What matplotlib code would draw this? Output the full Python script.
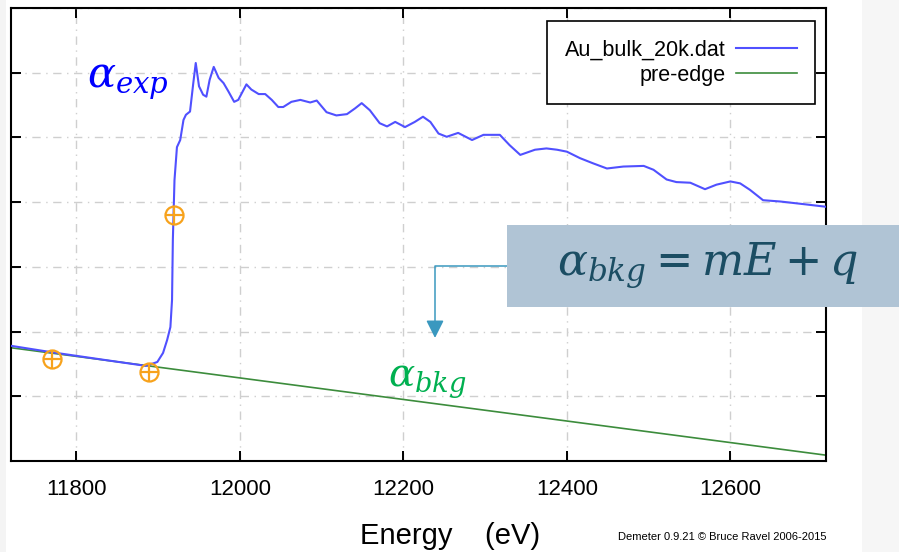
import matplotlib
matplotlib.use("Agg")
import matplotlib.pyplot as plt
from matplotlib.patches import Rectangle

# data (energy in eV, mu in arbitrary units)
ENERGY = [11720, 11770, 11830, 11885, 11899, 11906, 11911, 11915, 11917, 11918,
          11920, 11923, 11927, 11931, 11934, 11939, 11943, 11946, 11950, 11955,
          11959, 11963, 11968, 11974, 11980, 11986, 11993, 11998, 12008, 12014,
          12023, 12031, 12039, 12047, 12053, 12063, 12074, 12086, 12094, 12106,
          12118, 12131, 12141, 12149, 12159, 12171, 12180, 12190, 12202, 12214,
          12224, 12233, 12243, 12253, 12267, 12284, 12298, 12318, 12330, 12343,
          12361, 12375, 12388, 12400, 12416, 12432, 12449, 12469, 12494, 12506,
          12522, 12534, 12551, 12569, 12583, 12600, 12612, 12624, 12640, 12661,
          12689, 12716]
MU = [1.78, 1.68, 1.57, 1.47, 1.53, 1.67, 1.87, 2.07, 2.49, 3.42,
      4.34, 4.85, 4.96, 5.27, 5.35, 5.40, 5.84, 6.15, 5.79, 5.66,
      5.63, 5.89, 6.09, 5.92, 5.84, 5.71, 5.55, 5.58, 5.82, 5.74,
      5.67, 5.67, 5.58, 5.47, 5.47, 5.55, 5.58, 5.54, 5.57, 5.39,
      5.34, 5.36, 5.45, 5.53, 5.42, 5.22, 5.17, 5.24, 5.16, 5.24,
      5.32, 5.24, 5.06, 5.01, 5.07, 4.96, 5.04, 5.04, 4.88, 4.73,
      4.81, 4.83, 4.81, 4.78, 4.68, 4.60, 4.52, 4.55, 4.56, 4.50,
      4.35, 4.31, 4.30, 4.20, 4.27, 4.32, 4.29, 4.19, 4.03, 4.01,
      3.97, 3.93]
PRE_E = [11720, 12717]
PRE_MU = [1.75, 0.09]
MARK_E = [11770, 11889, 11919]
MARK_MU = [1.58, 1.38, 3.80]
XTICKS = [11800, 12000, 12200, 12400, 12600]

plt.rcParams["font.family"] = ["Liberation Sans", "DejaVu Sans"]
plt.rcParams["mathtext.fontset"] = "dejavuserif"

W, H = 899, 552
fig = plt.figure(figsize=(W / 100, H / 100), dpi=100)
fig.patches.append(Rectangle((0, 0), 6 / W, 1, transform=fig.transFigure,
                             facecolor="#f4f4f4", edgecolor="none", zorder=0))
fig.patches.append(Rectangle((862 / W, 0), 37 / W, 1, transform=fig.transFigure,
                             facecolor="#f6f6f6", edgecolor="none", zorder=0))

ax = fig.add_axes([11 / W, 91 / H, 815 / W, 453 / H])
ax.plot(ENERGY, MU, color="#5050ff", lw=1.5, label="Au_bulk_20k.dat", zorder=3)
ax.plot(PRE_E, PRE_MU, color="#3c8c3c", lw=1.2, label="pre-edge", zorder=2)
ax.plot(MARK_E, MARK_MU, ls="none", marker="o", ms=13, mfc="none",
        mec="#f7a21c", mew=1.6, zorder=4)
ax.plot(MARK_E, MARK_MU, ls="none", marker="+", ms=13, mec="#f7a21c",
        mew=1.6, zorder=4)

ax.set_xlim(11720, 12717)
ax.set_ylim(0, 7)
ax.set_xticks(XTICKS)
ax.set_yticks(range(0, 8))
ax.set_yticklabels([])
ax.tick_params(direction="in", length=7, width=1.4, top=True, right=True,
               labelsize=16, pad=13)
ax.grid(color="#cfcfcf", lw=1, ls=(0, (6, 4, 1, 4)))
for s in ax.spines.values():
    s.set_linewidth(1.5)

leg = ax.legend(loc="upper right", bbox_to_anchor=(0.9865, 0.971),
                borderaxespad=0, fontsize=15.5, markerfirst=False,
                handlelength=2.8, handletextpad=0.5,
                fancybox=False, framealpha=1, edgecolor="black",
                borderpad=0.85, labelspacing=0.2)
leg.get_frame().set_linewidth(1.2)
for t in leg.get_texts():
    t.set_ha("right")

# annotations
fig.text(87 / W, 1 - 82 / H, r"$\alpha_{exp}$", color="#0000ff",
         fontsize=30, va="center", ha="left")
fig.text(388 / W, 1 - 382 / H, r"$\alpha_{bkg}$", color="#00b050",
         fontsize=28, va="center", ha="left")

fig.patches.append(Rectangle((507 / W, 245 / H), 392 / W, 82 / H,
                             transform=fig.transFigure, facecolor="#b0c4d5",
                             edgecolor="none", zorder=5))
fig.text(708 / W, 1 - 266 / H, r"$\alpha_{bkg} = mE + q$", color="#1b4d63",
         fontsize=32, va="center", ha="center", zorder=6)
ax.annotate("", xy=(435, H - 338), xytext=(507, H - 266),
            xycoords="figure pixels", textcoords="figure pixels",
            arrowprops=dict(arrowstyle="-|>,head_length=0.6,head_width=0.3",
                            connectionstyle="angle,angleA=180,angleB=90,rad=0",
                            color="#3a98bf", lw=1.1, mutation_scale=18,
                            shrinkA=0, shrinkB=0), annotation_clip=False)

fig.text(450 / W, 1 - 536 / H, "Energy    (eV)", fontsize=21,
         ha="center", va="center")
fig.text(826 / W, 1 - 537 / H, "Demeter 0.9.21 \u00a9 Bruce Ravel 2006-2015",
         fontsize=8, ha="right", va="center")

fig.savefig("out.png", dpi=100)
